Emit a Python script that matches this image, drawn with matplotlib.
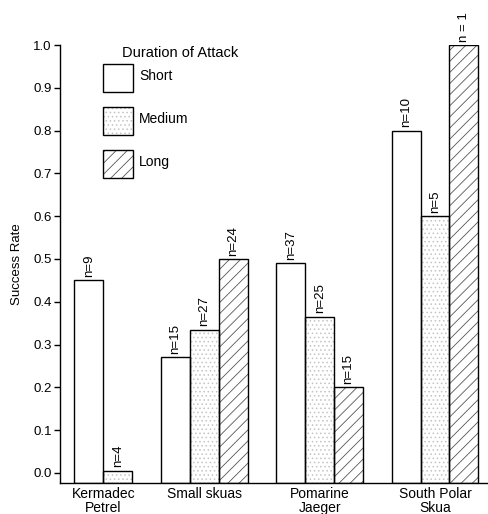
"""Attack success rate by species and attack duration."""

import matplotlib
matplotlib.use("Agg")
import matplotlib.pyplot as plt
from matplotlib.patches import Rectangle

plt.rcParams["font.family"] = ["Liberation Sans", "DejaVu Sans"]
plt.rcParams["hatch.linewidth"] = 0.6

# data
species = ["Kermadec\nPetrel", "Small skuas", "Pomarine\nJaeger", "South Polar\nSkua"]
durations = ["Short", "Medium", "Long"]
short_rate = [0.45, 0.27, 0.49, 0.80]
medium_rate = [0.005, 0.335, 0.365, 0.60]
long_rate = [None, 0.50, 0.20, 1.00]
short_n = ["n=9", "n=15", "n=37", "n=10"]
medium_n = ["n=4", "n=27", "n=25", "n=5"]
long_n = [None, "n=24", "n=15", "n = 1"]

W, H = 489, 514
fig = plt.figure(figsize=(W / 100, H / 100), dpi=100)
ax = fig.add_axes([60 / W, 1 - 483 / H, 427 / W, (483 - 45) / H])

ymin = -0.0234
ax.set_xlim(0, 14.8)
ax.set_ylim(ymin, 1.0)

group_left = [0.5, 3.5, 7.5, 11.5]
styles = {
    "Short": dict(hatch=None, hcolor="black"),
    "Medium": dict(hatch="....", hcolor="#c4c4c4"),
    "Long": dict(hatch="///", hcolor="#555555"),
}


def draw_bar(x, val, style):
    st = styles[style]
    ax.bar(x, val - ymin, bottom=ymin, width=1.0, align="edge",
           facecolor="white", edgecolor=st["hcolor"], hatch=st["hatch"],
           linewidth=0, zorder=2)
    ax.bar(x, val - ymin, bottom=ymin, width=1.0, align="edge",
           fill=False, edgecolor="black", linewidth=1.0, zorder=3)


series = [(short_rate, short_n), (medium_rate, medium_n), (long_rate, long_n)]
centers = []
for g, left in enumerate(group_left):
    nbars = 0
    for k, (vals, ns) in enumerate(series):
        v = vals[g]
        if v is None:
            continue
        x = left + k
        draw_bar(x, v, durations[k])
        ax.text(x + 0.5, v + 0.008, ns[g], rotation=90, ha="center",
                va="bottom", fontsize=9.5, clip_on=False)
        nbars += 1
    centers.append(left + nbars / 2)

ax.set_xticks(centers)
ax.set_xticklabels(species, fontsize=10, linespacing=1.0)
ax.tick_params(axis="x", length=0, pad=3)

ax.set_yticks([i / 10 for i in range(11)])
ax.set_yticklabels([f"{i / 10:.1f}" for i in range(11)], fontsize=9.5)
ax.tick_params(axis="y", direction="out", length=4, width=1, pad=2)
ax.set_ylabel("Success Rate", fontsize=9.5, labelpad=7)

ax.spines["top"].set_visible(False)
ax.spines["right"].set_visible(False)
ax.spines["left"].set_linewidth(1.0)
ax.spines["bottom"].set_linewidth(1.0)

# legend drawn by hand to follow the original layout
fig.text(122 / W, 1 - 53 / H, "Duration of Attack", fontsize=10.5,
         ha="left", va="center")
box_tops = [64, 107, 150]
for lab, top in zip(durations, box_tops):
    st = styles[lab]
    rect = (103 / W, 1 - (top + 28) / H)
    fig.add_artist(Rectangle(rect, 30 / W, 28 / H, transform=fig.transFigure,
                             facecolor="white", edgecolor=st["hcolor"],
                             hatch=st["hatch"], linewidth=0))
    fig.add_artist(Rectangle(rect, 30 / W, 28 / H, transform=fig.transFigure,
                             fill=False, edgecolor="black", linewidth=1.0))
    fig.text(139 / W, 1 - (top + 12) / H, lab, fontsize=10,
             ha="left", va="center")

fig.savefig("out.png", dpi=100, facecolor="white")
